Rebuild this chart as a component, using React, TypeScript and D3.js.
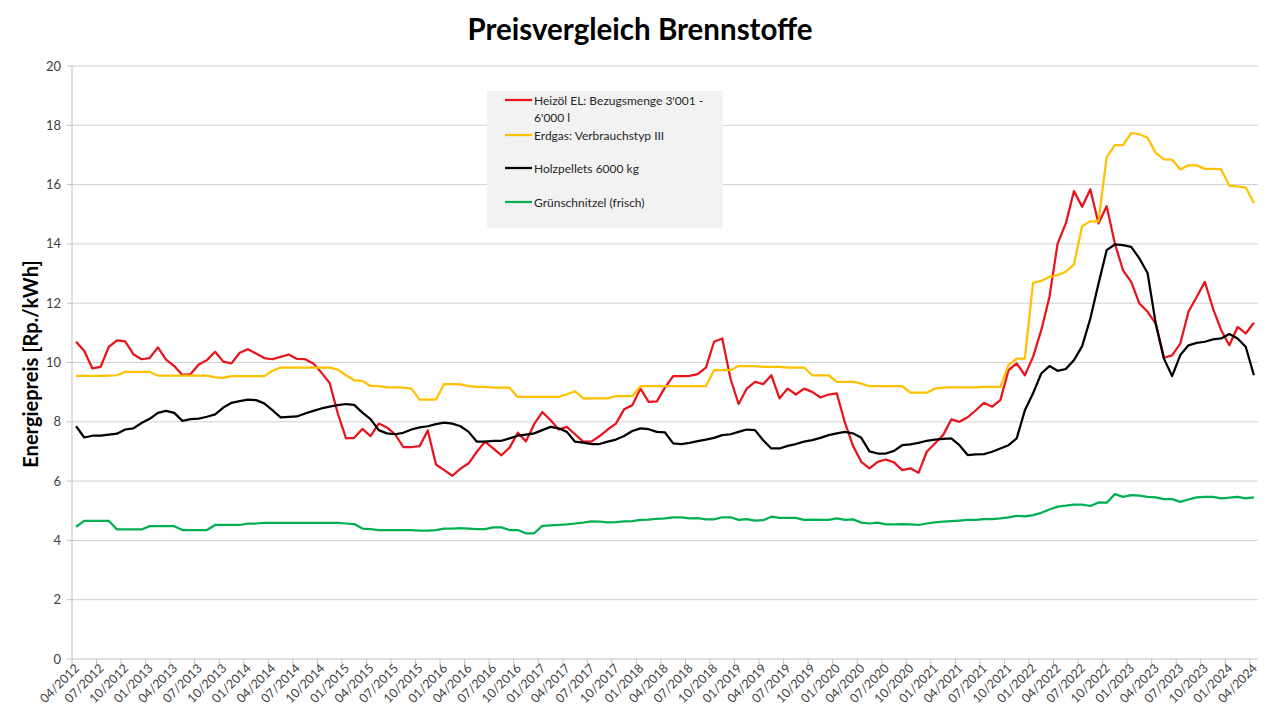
import React from "react";
import * as d3 from "d3";

const months: string[] = (() => {
  const out: string[] = [];
  for (let k = 0; k < 145; k++) {
    const m = ((3 + k) % 12) + 1;
    const y = 2012 + Math.floor((3 + k) / 12);
    out.push(`${String(m).padStart(2, "0")}/${y}`);
  }
  return out;
})();

const heizoel: number[] = [
  10.70, 10.39, 9.80, 9.85, 10.53, 10.75, 10.71, 10.28, 10.11, 10.15, 10.51, 10.10,
  9.88, 9.58, 9.61, 9.93, 10.08, 10.36, 10.03, 9.97, 10.33, 10.45, 10.30, 10.15,
  10.11, 10.19, 10.27, 10.12, 10.11, 9.97, 9.66, 9.31, 8.28, 7.44, 7.46, 7.76,
  7.52, 7.94, 7.81, 7.58, 7.15, 7.15, 7.18, 7.71, 6.56, 6.37, 6.18, 6.42,
  6.60, 6.99, 7.33, 7.10, 6.87, 7.13, 7.63, 7.34, 7.92, 8.33, 8.06, 7.74,
  7.83, 7.58, 7.33, 7.33, 7.52, 7.74, 7.94, 8.42, 8.56, 9.12, 8.67, 8.69,
  9.16, 9.54, 9.54, 9.55, 9.61, 9.83, 10.70, 10.81, 9.46, 8.60, 9.12, 9.35,
  9.27, 9.57, 8.79, 9.12, 8.92, 9.12, 9.01, 8.82, 8.92, 8.96, 7.97, 7.18,
  6.65, 6.43, 6.65, 6.73, 6.63, 6.37, 6.43, 6.28, 6.99, 7.27, 7.55, 8.08,
  8.00, 8.15, 8.39, 8.64, 8.51, 8.73, 9.74, 9.97, 9.57, 10.19, 11.09, 12.21,
  14.01, 14.69, 15.78, 15.25, 15.84, 14.69, 15.27, 14.01, 13.11, 12.72, 11.99, 11.71,
  11.31, 10.16, 10.24, 10.64, 11.71, 12.21, 12.72, 11.82, 11.09, 10.58, 11.20, 10.98,
  11.34,
];

const erdgas: number[] = [
  9.55, 9.55, 9.55, 9.55, 9.56, 9.57, 9.68, 9.68, 9.68, 9.68, 9.56, 9.56,
  9.56, 9.56, 9.56, 9.56, 9.56, 9.50, 9.48, 9.54, 9.54, 9.54, 9.54, 9.54,
  9.72, 9.83, 9.83, 9.83, 9.83, 9.83, 9.83, 9.83, 9.76, 9.57, 9.40, 9.38,
  9.21, 9.20, 9.16, 9.16, 9.15, 9.12, 8.75, 8.75, 8.75, 9.27, 9.27, 9.26,
  9.20, 9.18, 9.18, 9.15, 9.15, 9.15, 8.84, 8.84, 8.84, 8.84, 8.84, 8.84,
  8.93, 9.03, 8.79, 8.79, 8.79, 8.79, 8.87, 8.87, 8.87, 9.20, 9.20, 9.20,
  9.20, 9.20, 9.20, 9.20, 9.20, 9.20, 9.74, 9.74, 9.74, 9.88, 9.88, 9.88,
  9.85, 9.85, 9.85, 9.83, 9.83, 9.83, 9.57, 9.57, 9.57, 9.35, 9.35, 9.35,
  9.29, 9.20, 9.20, 9.20, 9.20, 9.20, 8.98, 8.98, 8.98, 9.12, 9.15, 9.16,
  9.16, 9.16, 9.16, 9.18, 9.18, 9.18, 9.91, 10.13, 10.13, 12.69, 12.75, 12.89,
  12.95, 13.06, 13.31, 14.60, 14.76, 14.76, 16.93, 17.33, 17.33, 17.74, 17.70, 17.58,
  17.07, 16.85, 16.84, 16.51, 16.65, 16.65, 16.53, 16.53, 16.52, 15.96, 15.94, 15.90,
  15.38,
];

const holzpellets: number[] = [
  7.85, 7.47, 7.53, 7.53, 7.57, 7.60, 7.74, 7.78, 7.96, 8.10, 8.30, 8.37,
  8.30, 8.03, 8.09, 8.11, 8.17, 8.25, 8.48, 8.64, 8.70, 8.75, 8.73, 8.62,
  8.39, 8.15, 8.17, 8.18, 8.28, 8.37, 8.45, 8.51, 8.56, 8.60, 8.57, 8.31,
  8.09, 7.72, 7.61, 7.58, 7.63, 7.74, 7.81, 7.85, 7.92, 7.97, 7.94, 7.85,
  7.66, 7.33, 7.33, 7.36, 7.36, 7.44, 7.53, 7.57, 7.61, 7.72, 7.83, 7.78,
  7.66, 7.33, 7.30, 7.25, 7.25, 7.33, 7.40, 7.52, 7.69, 7.78, 7.75, 7.66,
  7.64, 7.27, 7.25, 7.29, 7.35, 7.40, 7.46, 7.55, 7.58, 7.66, 7.74, 7.72,
  7.38, 7.10, 7.10, 7.19, 7.25, 7.33, 7.38, 7.46, 7.55, 7.61, 7.66, 7.61,
  7.46, 7.00, 6.93, 6.93, 7.02, 7.21, 7.24, 7.29, 7.36, 7.40, 7.42, 7.44,
  7.21, 6.88, 6.90, 6.91, 6.99, 7.10, 7.21, 7.44, 8.39, 8.96, 9.63, 9.88,
  9.72, 9.78, 10.08, 10.55, 11.48, 12.66, 13.79, 13.98, 13.96, 13.90, 13.51, 13.02,
  11.31, 10.13, 9.54, 10.25, 10.58, 10.66, 10.70, 10.78, 10.81, 10.96, 10.81, 10.53,
  9.57,
];

const gruenschnitzel: number[] = [
  4.46, 4.66, 4.66, 4.66, 4.66, 4.37, 4.37, 4.37, 4.37, 4.48, 4.48, 4.48,
  4.48, 4.35, 4.35, 4.35, 4.35, 4.52, 4.52, 4.52, 4.52, 4.57, 4.57, 4.59,
  4.59, 4.59, 4.59, 4.59, 4.59, 4.59, 4.59, 4.59, 4.59, 4.57, 4.55, 4.40,
  4.38, 4.35, 4.35, 4.35, 4.35, 4.35, 4.33, 4.33, 4.35, 4.40, 4.40, 4.41,
  4.40, 4.38, 4.38, 4.44, 4.44, 4.35, 4.35, 4.24, 4.24, 4.49, 4.51, 4.52,
  4.54, 4.57, 4.60, 4.64, 4.63, 4.61, 4.62, 4.64, 4.65, 4.69, 4.70, 4.73,
  4.74, 4.78, 4.78, 4.74, 4.75, 4.71, 4.71, 4.78, 4.78, 4.69, 4.72, 4.67,
  4.68, 4.80, 4.76, 4.76, 4.76, 4.69, 4.70, 4.69, 4.69, 4.74, 4.69, 4.71,
  4.60, 4.57, 4.60, 4.54, 4.54, 4.55, 4.54, 4.52, 4.57, 4.61, 4.63, 4.65,
  4.67, 4.69, 4.69, 4.72, 4.72, 4.74, 4.78, 4.83, 4.81, 4.85, 4.93, 5.04,
  5.14, 5.17, 5.21, 5.21, 5.16, 5.28, 5.27, 5.56, 5.47, 5.53, 5.51, 5.47,
  5.45, 5.39, 5.39, 5.30, 5.38, 5.45, 5.47, 5.47, 5.42, 5.44, 5.47, 5.42,
  5.45,
];

const yTicks: number[] = [0, 2, 4, 6, 8, 10, 12, 14, 16, 18, 20];

const series = [
  { name: "Heizöl EL: Bezugsmenge 3'001 -", name2: "6'000 l", values: heizoel, color: "#e8131b" },
  { name: "Erdgas: Verbrauchstyp III", name2: "", values: erdgas, color: "#ffc000" },
  { name: "Holzpellets 6000 kg", name2: "", values: holzpellets, color: "#000000" },
  { name: "Grünschnitzel (frisch)", name2: "", values: gruenschnitzel, color: "#00b050" },
];

const FONT = "Lato, 'Open Sans', sans-serif";

export default function App() {
  const left = 72, right = 1258, top = 66, bottom = 659;
  const x = d3.scaleBand<string>().domain(months).range([left, right]).padding(0);
  const bw = x.bandwidth();
  const y = d3.scaleLinear().domain([0, 20]).range([bottom, top]);
  const cx = (i: number) => (x(months[i]) as number) + bw / 2;

  const line = (vals: number[]) =>
    d3.line<number>().x((_, i) => cx(i)).y((v) => y(v))(vals) || "";

  const labelIdx = months.map((_, i) => i).filter((i) => i % 3 === 0);
  const tickIdx = labelIdx;

  const legendY = [100, 135, 168, 202];

  return (
    <svg
      width={1280}
      height={720}
      style={{ position: "absolute", left: 0, top: 0, background: "#fff" }}
      fontFamily={FONT}
    >
      <rect x={0} y={0} width={1280} height={720} fill="#ffffff" />
      <text x={640} y={39.5} textAnchor="middle" fontSize={29.5} fontWeight="bold" fill="#000">
        Preisvergleich Brennstoffe
      </text>

      {yTicks.map((t) => (
        <g key={t}>
          {t > 0 && (
            <line x1={left} x2={right} y1={y(t)} y2={y(t)} stroke="#d0d0d0" strokeWidth={1} />
          )}
          <line x1={left - 5} x2={left} y1={y(t)} y2={y(t)} stroke="#bfbfbf" strokeWidth={1} />
          <text x={61} y={y(t) + 4.5} textAnchor="end" fontSize={13} fill="#404040">
            {t}
          </text>
        </g>
      ))}

      <line x1={left} x2={left} y1={top} y2={bottom} stroke="#bfbfbf" strokeWidth={1} />
      <line x1={left} x2={right} y1={bottom} y2={bottom} stroke="#bfbfbf" strokeWidth={1} />
      {tickIdx.map((i) => (
        <line
          key={"t" + i}
          x1={x(months[i]) as number}
          x2={x(months[i]) as number}
          y1={bottom}
          y2={bottom + 5}
          stroke="#bfbfbf"
          strokeWidth={1}
        />
      ))}
      {labelIdx.map((i) => (
        <text
          key={"l" + i}
          transform={`translate(${cx(i) + 4},${bottom + 10}) rotate(-45)`}
          textAnchor="end"
          fontSize={12.5}
          fill="#404040"
        >
          {months[i]}
        </text>
      ))}

      <text
        transform={`translate(38,364) rotate(-90)`}
        textAnchor="middle"
        fontSize={20}
        fontWeight="bold"
        fill="#000"
      >
        Energiepreis [Rp./kWh]
      </text>

      {series.map((s) => (
        <path
          key={s.name}
          d={line(s.values)}
          fill="none"
          stroke={s.color}
          strokeWidth={2.25}
          strokeLinejoin="round"
        />
      ))}

      <rect x={487} y={91} width={236} height={137} fill="#f2f2f2" />
      {series.map((s, k) => (
        <g key={"lg" + k}>
          <line x1={505} x2={532} y1={legendY[k]} y2={legendY[k]} stroke={s.color} strokeWidth={2.25} />
          <text x={534} y={legendY[k] + 4.5} fontSize={12} fill="#262626">
            {s.name}
          </text>
          {s.name2 && (
            <text x={534} y={legendY[k] + 21.5} fontSize={12} fill="#262626">
              {s.name2}
            </text>
          )}
        </g>
      ))}
    </svg>
  );
}
